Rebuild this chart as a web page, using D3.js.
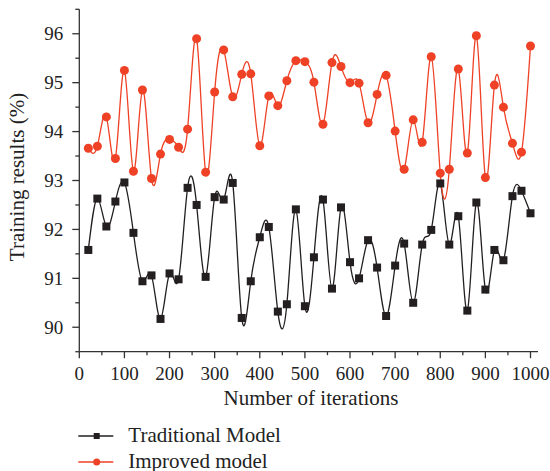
<!DOCTYPE html>
<html><head><meta charset="utf-8">
<script src="https://cdn.jsdelivr.net/npm/d3@7"></script>
<style>
body{margin:0;background:#fff;}
svg text{font-family:"Liberation Serif","DejaVu Serif",serif;fill:#222;}
</style></head>
<body><svg id="c" width="550" height="471"></svg>
<script>
const iterations = [20,40,60,80,100,120,140,160,180,200,220,240,260,280,300,320,340,360,380,400,420,440,460,480,500,520,540,560,580,600,620,640,660,680,700,720,740,760,780,800,820,840,860,880,900,920,940,960,980,1000];
const traditional = [91.58,92.63,92.06,92.57,92.96,91.93,90.94,91.06,90.17,91.10,90.98,92.85,92.50,91.03,92.66,92.61,92.95,90.19,90.94,91.84,92.05,90.32,90.47,92.41,90.43,91.43,92.61,90.79,92.45,91.33,91.00,91.78,91.22,90.23,91.26,91.71,90.50,91.69,91.99,92.94,91.69,92.27,90.34,92.55,90.77,91.58,91.37,92.68,92.79,92.33];
const improved = [93.66,93.70,94.30,93.45,95.25,93.19,94.85,93.04,93.54,93.84,93.68,94.05,95.90,93.17,94.81,95.67,94.71,95.17,95.18,93.71,94.73,94.53,95.04,95.45,95.43,95.01,94.15,95.41,95.33,95.00,94.99,94.18,94.76,95.15,94.01,93.23,94.24,93.78,95.53,93.15,93.23,95.28,93.56,95.96,93.06,94.95,94.50,93.76,93.58,95.75];
const xTicks = [0,100,200,300,400,500,600,700,800,900,1000];
const yTicks = [90,91,92,93,94,95,96];
const seriesNames = ["Traditional Model","Improved model"];
const colors = ["#231f20","#ee4125"];

const svg = d3.select("#c");
const x = d3.scaleLinear().domain([0,1000]).range([79.3,530.5]);
const y = d3.scaleLinear().domain([89.5,96.5]).range([351.7,9.3]);
const axisColor = "#333";

// axes
const xAxisG = svg.append("g").attr("transform","translate(0,351.7)");
xAxisG.append("line").attr("x1",x(0)).attr("x2",538).attr("stroke",axisColor).attr("stroke-width",1.3);
const xMinor = d3.range(50,1001,100);
xAxisG.selectAll(".xmaj").data(xTicks).join("line").attr("x1",d=>x(d)).attr("x2",d=>x(d)).attr("y1",0).attr("y2",6.5).attr("stroke",axisColor).attr("stroke-width",1.3);
xAxisG.selectAll(".xmin").data(xMinor).join("line").attr("x1",d=>x(d)).attr("x2",d=>x(d)).attr("y1",0).attr("y2",3.5).attr("stroke",axisColor).attr("stroke-width",1.3);
xAxisG.selectAll(".xl").data(xTicks).join("text").attr("x",d=>x(d)).attr("y",28.5).attr("text-anchor","middle").attr("font-size",19).text(d=>d);

const yAxisG = svg.append("g").attr("transform","translate(79.3,0)");
yAxisG.append("line").attr("y1",y(89.5)).attr("y2",y(96.5)).attr("stroke",axisColor).attr("stroke-width",1.3);
const yMinor = d3.range(89.5,96.6,1);
yAxisG.selectAll(".ymaj").data(yTicks).join("line").attr("y1",d=>y(d)).attr("y2",d=>y(d)).attr("x1",0).attr("x2",-7).attr("stroke",axisColor).attr("stroke-width",1.3);
yAxisG.selectAll(".ymin").data(yMinor).join("line").attr("y1",d=>y(d)).attr("y2",d=>y(d)).attr("x1",0).attr("x2",-4).attr("stroke",axisColor).attr("stroke-width",1.3);
yAxisG.selectAll(".yl").data(yTicks).join("text").attr("x",-16).attr("y",d=>y(d)+6.5).attr("text-anchor","end").attr("font-size",19).text(d=>d);

svg.append("text").attr("x",311).attr("y",405).attr("text-anchor","middle").attr("font-size",21).text("Number of iterations");
svg.append("text").attr("transform","translate(24,177) rotate(-90)").attr("text-anchor","middle").attr("font-size",21).text("Training results (%)");

const line = d3.line().x((d,i)=>x(iterations[i])).y(d=>y(d)).curve(d3.curveNatural);
const data = [traditional, improved];
data.forEach((vals,k)=>{
  svg.append("path").attr("d",line(vals)).attr("fill","none").attr("stroke",colors[k]).attr("stroke-width",1.3);
});
// markers
svg.selectAll(".sq").data(traditional).join("rect")
  .attr("x",(d,i)=>x(iterations[i])-4).attr("y",d=>y(d)-4).attr("width",8).attr("height",8).attr("fill",colors[0]);
svg.selectAll(".ci").data(improved).join("circle")
  .attr("cx",(d,i)=>x(iterations[i])).attr("cy",d=>y(d)).attr("r",4.5).attr("fill",colors[1]);

// legend
const lg = svg.append("g");
[436,462].forEach((ly,k)=>{
  lg.append("line").attr("x1",78.3).attr("x2",113.3).attr("y1",ly).attr("y2",ly).attr("stroke",colors[k]).attr("stroke-width",1.3);
  if(k===0) lg.append("rect").attr("x",96.7-3).attr("y",ly-3).attr("width",6).attr("height",6).attr("fill",colors[0]);
  else lg.append("circle").attr("cx",96.7).attr("cy",ly).attr("r",3.5).attr("fill",colors[1]);
  lg.append("text").attr("x",128.3).attr("y",ly+5.5).attr("font-size",21).text(seriesNames[k]);
});
</script></body></html>
